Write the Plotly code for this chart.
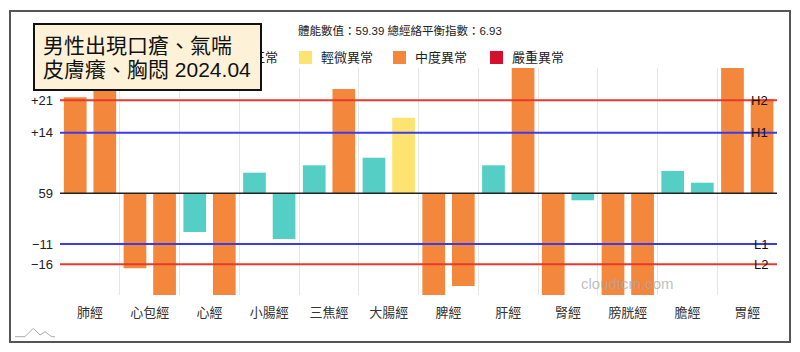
import plotly.graph_objects as go

# ---------------- data ----------------
categories = ["肺經", "心包經", "心經", "小腸經", "三焦經", "大腸經",
              "脾經", "肝經", "腎經", "膀胱經", "膽經", "胃經"]

# deviation from the baseline value (59.39); bars beyond the axis are clipped
left_values = [21.66, -16.92, -8.73, 4.65, 6.32, 8.03,
               -27.0, 6.32, -27.0, -27.0, 5.03, 31.0]
left_levels = ["中度異常", "中度異常", "正常", "正常", "正常", "正常",
               "中度異常", "正常", "中度異常", "中度異常", "正常", "中度異常"]

right_values = [26.0, -27.0, -27.0, -10.31, 23.53, 17.06,
                -20.92, 31.0, -1.58, -27.0, 2.39, 21.28]
right_levels = ["中度異常", "中度異常", "中度異常", "正常", "中度異常", "輕微異常",
                "中度異常", "中度異常", "正常", "中度異常", "正常", "中度異常"]

level_names = ["正常", "輕微異常", "中度異常", "嚴重異常"]
level_colors = ["#55CFC5", "#FDE36F", "#F3873B", "#D3112F"]

threshold_values = [21, 13.67, -11.44, -16]
threshold_names = ["H2", "H1", "L1", "L2"]
threshold_ticktext = ["+21", "+14", "−11", "−16"]
threshold_colors = ["#E8392E", "#3B3BEA", "#3B3BEA", "#E8392E"]
baseline_ticktext = "59"

physical_value = "59.39"
balance_index = "6.93"
title_lines = ["男性出現口瘡、氣喘", "皮膚癢、胸悶 2024.04"]
watermark = "cloudtcm.com"

# ---------------- layout geometry (pixels) ----------------
W, H = 800, 352
L, R, T, B = 60, 777, 68, 295
PX_PER_UNIT = 4.432
ZERO_PX = 193.3
y_top = (ZERO_PX - T) / PX_PER_UNIT
y_bot = -(B - ZERO_PX) / PX_PER_UNIT


def px_x(x):
    return (x - L) / (R - L)


def px_y(y):
    return (B - y) / (B - T)


FONT = "Liberation Sans, Noto Sans CJK TC, sans-serif"
color_map = dict(zip(level_names, level_colors))

fig = go.Figure()
fig.add_trace(go.Bar(x=categories, y=left_values,
                     marker=dict(color=[color_map[v] for v in left_levels], line=dict(width=0)),
                     offset=-0.435, width=0.38, showlegend=False, hoverinfo="skip"))
fig.add_trace(go.Bar(x=categories, y=right_values,
                     marker=dict(color=[color_map[v] for v in right_levels], line=dict(width=0)),
                     offset=0.06, width=0.38, showlegend=False, hoverinfo="skip"))

shapes = []
annotations = []

# outer frame
shapes.append(dict(type="rect", xref="paper", yref="paper",
                   x0=px_x(10), x1=px_x(790), y0=px_y(342), y1=px_y(11),
                   line=dict(color="#555555", width=2), fillcolor="rgba(0,0,0,0)", layer="below"))

# threshold lines
for v, c, n in zip(threshold_values, threshold_colors, threshold_names):
    shapes.append(dict(type="line", xref="paper", yref="y", x0=0, x1=1, y0=v, y1=v,
                       line=dict(color=c, width=2), layer="above"))
    annotations.append(dict(x=px_x(770), y=v, xref="paper", yref="y", text=n,
                            showarrow=False, xanchor="right", yanchor="middle",
                            font=dict(family=FONT, size=13, color="#111111")))
# baseline
shapes.append(dict(type="line", xref="paper", yref="y", x0=0, x1=1, y0=0, y1=0,
                   line=dict(color="#222222", width=1.5), layer="above"))

# legend (manual), drawn with annotations so the title box can cover the first entry
legend_px = [230, 299, 393, 490]
for name, col, lx in zip(level_names, level_colors, legend_px):
    annotations.append(dict(x=px_x(lx), y=px_y(57), xref="paper", yref="paper",
                            text=" ", showarrow=False, xanchor="left", yanchor="middle",
                            width=13, height=13, bgcolor=col, borderpad=0, borderwidth=0,
                            font=dict(family=FONT, size=8)))
    annotations.append(dict(x=px_x(lx + 20), y=px_y(57), xref="paper", yref="paper",
                            text=name, showarrow=False, xanchor="left", yanchor="middle",
                            font=dict(family=FONT, size=13, color="#222222")))

# title box (annotation so it sits over the legend's first entry)
annotations.append(dict(x=px_x(33), y=px_y(23), xref="paper", yref="paper",
                        text=" ", showarrow=False, xanchor="left", yanchor="top",
                        width=225, height=64, bgcolor="#FDF2D7", bordercolor="#111111",
                        borderwidth=2, borderpad=0, font=dict(family=FONT, size=8)))
for i, line in enumerate(title_lines):
    annotations.append(dict(x=px_x(41), y=px_y(45.5 + 24.5 * i), xref="paper", yref="paper",
                            text=line, showarrow=False, xanchor="left", yanchor="middle",
                            font=dict(family=FONT, size=21, color="#111111")))

# top info text
annotations.append(dict(x=px_x(400), y=px_y(30), xref="paper", yref="paper",
                        text=f"體能數值：{physical_value} 總經絡平衡指數：{balance_index}",
                        showarrow=False, xanchor="center", yanchor="middle",
                        font=dict(family=FONT, size=11.5, color="#222222")))

# watermark
annotations.append(dict(x=px_x(627), y=px_y(283), xref="paper", yref="paper",
                        text=watermark, showarrow=False, xanchor="center", yanchor="middle",
                        font=dict(family=FONT, size=15, color="rgba(170,170,170,0.75)")))

# small logo at bottom-left
logo_pts = [(15, 336.7), (25, 336.7), (33.3, 328.3), (40, 335), (45, 331.7), (51.7, 336.7), (55, 336.7)]
path = "M " + " L ".join(f"{px_x(x):.5f},{px_y(y):.5f}" for x, y in logo_pts)
shapes.append(dict(type="path", xref="paper", yref="paper", path=path,
                   line=dict(color="#AAAAAA", width=1), layer="above"))

fig.update_layout(
    width=W, height=H,
    margin=dict(l=L, r=W - R, t=T, b=H - B, pad=0),
    paper_bgcolor="white", plot_bgcolor="white",
    barmode="overlay",
    showlegend=False,
    shapes=shapes, annotations=annotations,
    font=dict(family=FONT),
    xaxis=dict(type="category", tickson="boundaries", showgrid=True, gridcolor="#E6E6E6",
               gridwidth=1, range=[-0.5, 11.5], ticks="", showline=False, zeroline=False,
               tickfont=dict(family=FONT, size=13, color="#333333"), ticklabelstandoff=8,
               fixedrange=True),
    yaxis=dict(range=[y_bot, y_top], showgrid=False, zeroline=False, ticks="", showline=False,
               tickvals=[threshold_values[0], threshold_values[1], 0, threshold_values[2], threshold_values[3]],
               ticktext=[threshold_ticktext[0], threshold_ticktext[1], baseline_ticktext,
                         threshold_ticktext[2], threshold_ticktext[3]],
               tickfont=dict(family=FONT, size=13, color="#222222"), ticklabelstandoff=6,
               fixedrange=True),
)

fig.write_html("out.html", config={"displayModeBar": False})
